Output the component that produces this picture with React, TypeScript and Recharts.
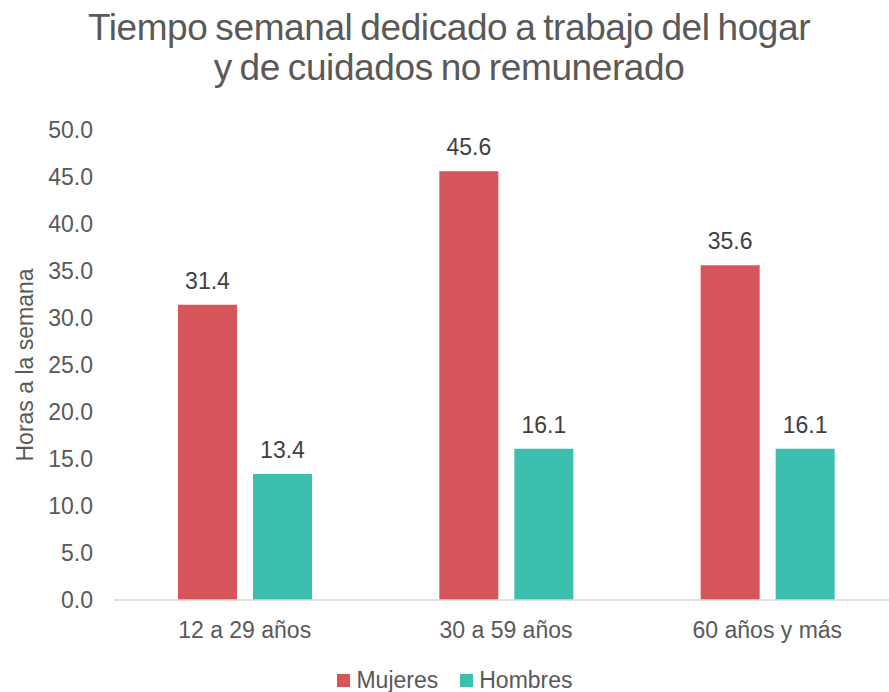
import { BarChart, Bar, XAxis, YAxis, Legend, LabelList } from 'recharts';

const groups = ['12 a 29 años', '30 a 59 años', '60 años y más'];
const mujeres = [31.4, 45.6, 35.6];
const hombres = [13.4, 16.1, 16.1];
const yTicks = [0, 5, 10, 15, 20, 25, 30, 35, 40, 45, 50];

const data = groups.map((g, i) => ({ grupo: g, Mujeres: mujeres[i], Hombres: hombres[i] }));

const RED = '#D6545A';
const TEAL = '#3CBFAE';
const GREY = '#595959';

const legendItems = [
  { name: 'Mujeres', color: RED },
  { name: 'Hombres', color: TEAL },
];

function ChartLegend() {
  return (
    <div style={{ height: 42, display: 'flex', justifyContent: 'center', alignItems: 'center', paddingTop: 18, paddingLeft: 12, boxSizing: 'border-box' }}>
      {legendItems.map((it) => (
        <span key={it.name} style={{ display: 'flex', alignItems: 'center', margin: '0 11px', fontSize: 23, color: GREY }}>
          <span style={{ width: 13, height: 13, background: it.color, display: 'inline-block', marginRight: 6 }} />
          {it.name}
        </span>
      ))}
    </div>
  );
}

export default function App() {
  return (
    <div
      style={{
        position: 'absolute',
        top: 0,
        left: 0,
        width: 889,
        height: 692,
        overflow: 'hidden',
        background: '#fff',
        fontFamily: '"Liberation Sans", Arial, sans-serif',
      }}
    >
      <div
        style={{
          position: 'absolute',
          top: 8,
          left: 0,
          width: 898,
          textAlign: 'center',
          fontSize: 37,
          lineHeight: '40px',
          color: GREY,
          letterSpacing: -0.4,
          wordSpacing: -2,
        }}
      >
        Tiempo semanal dedicado a trabajo del hogar
        <br />
        y de cuidados no remunerado
      </div>
      <BarChart
        width={898}
        height={692}
        data={data}
        margin={{ top: 130, right: 0, bottom: 0, left: 0 }}
        barSize={59}
        barGap={16}
      >
        <XAxis
          dataKey="grupo"
          height={50}
          tickLine={false}
          tickMargin={16}
          axisLine={{ stroke: '#D9D9D9', strokeWidth: 1.5 }}
          tick={{ fill: GREY, fontSize: 23 }}
        />
        <YAxis
          width={114}
          domain={[0, 50]}
          ticks={yTicks}
          axisLine={false}
          tickLine={false}
          tickMargin={15}
          tickFormatter={(v: number) => v.toFixed(1)}
          tick={{ fill: GREY, fontSize: 23 }}
          label={{
            content: () => (
              <text x={25} y={365} transform="rotate(-90 25 365)" textAnchor="middle" dominantBaseline="central" fill={GREY} fontSize={23}>
                Horas a la semana
              </text>
            ),
          }}
        />
        <Legend verticalAlign="bottom" content={<ChartLegend />} />
        <Bar dataKey="Mujeres" fill={RED} isAnimationActive={false}>
          <LabelList dataKey="Mujeres" position="top" offset={16} fill="#404040" fontSize={23} formatter={(v: number) => v.toFixed(1)} />
        </Bar>
        <Bar dataKey="Hombres" fill={TEAL} isAnimationActive={false}>
          <LabelList dataKey="Hombres" position="top" offset={16} fill="#404040" fontSize={23} formatter={(v: number) => v.toFixed(1)} />
        </Bar>
      </BarChart>
    </div>
  );
}
